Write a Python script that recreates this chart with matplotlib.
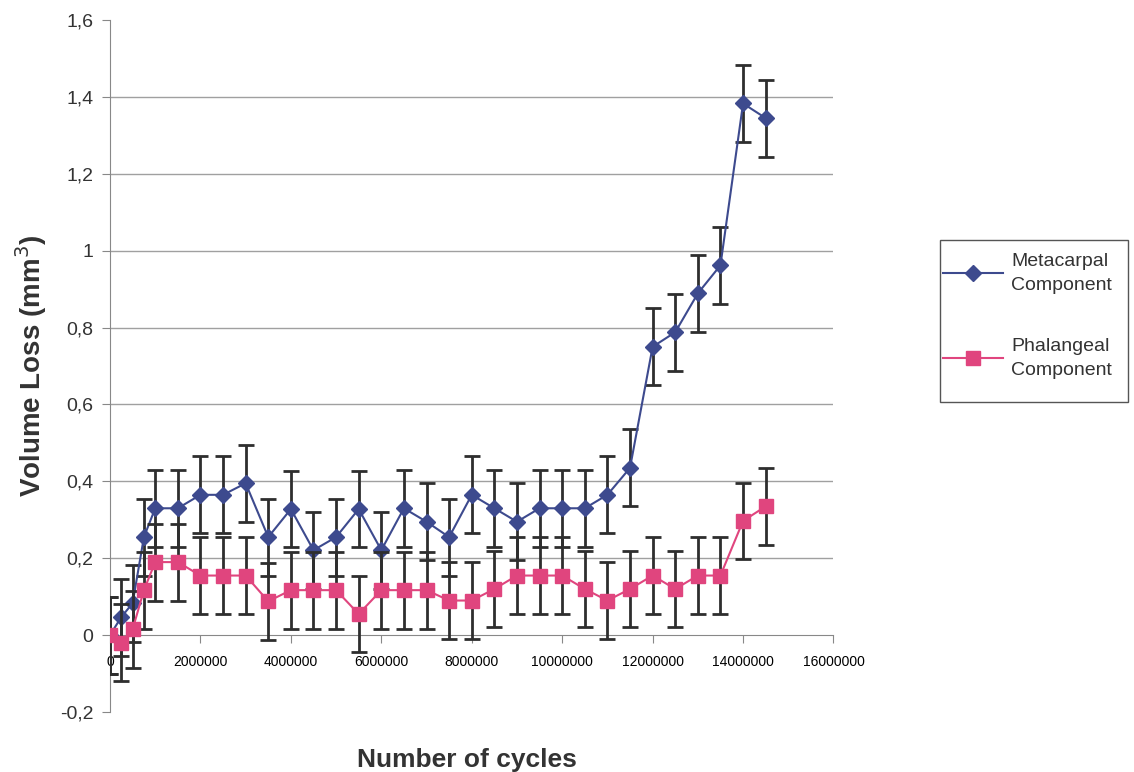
import numpy as np
import matplotlib.pyplot as plt
from matplotlib.lines import Line2D
from matplotlib.patches import Rectangle

cycles = [0, 250000, 500000, 750000, 1000000, 1500000, 2000000, 2500000, 3000000,
          3500000, 4000000, 4500000, 5000000, 5500000, 6000000, 6500000, 7000000,
          7500000, 8000000, 8500000, 9000000, 9500000, 10000000, 10500000, 11000000,
          11500000, 12000000, 12500000, 13000000, 13500000, 14000000, 14500000]
metacarpal = [0, 0.047, 0.083, 0.255, 0.33, 0.33, 0.365, 0.365, 0.395,
              0.255, 0.328, 0.221, 0.255, 0.328, 0.221, 0.33, 0.295,
              0.255, 0.365, 0.33, 0.295, 0.33, 0.33, 0.33, 0.365,
              0.435, 0.75, 0.788, 0.889, 0.962, 1.383, 1.345]
phalangeal = [0, -0.02, 0.015, 0.117, 0.19, 0.19, 0.155, 0.155, 0.155,
              0.088, 0.117, 0.117, 0.117, 0.055, 0.117, 0.117, 0.117,
              0.09, 0.09, 0.12, 0.155, 0.155, 0.155, 0.12, 0.09,
              0.12, 0.155, 0.12, 0.155, 0.155, 0.297, 0.335]
meta_err = [0.1] * len(cycles)
phal_err = [0.1] * len(cycles)

yticks = [-0.2, 0, 0.2, 0.4, 0.6, 0.8, 1.0, 1.2, 1.4, 1.6]
ytick_labels = ["-0,2", "0", "0,2", "0,4", "0,6", "0,8", "1", "1,2", "1,4", "1,6"]
xticks = [0, 2000000, 4000000, 6000000, 8000000, 10000000, 12000000, 14000000, 16000000]
series_names = ["Metacarpal\nComponent", "Phalangeal\nComponent"]

plt.rcParams['font.family'] = ['Liberation Sans', 'DejaVu Sans']

W, H = 1134, 772
fig = plt.figure(figsize=(W / 100, H / 100), dpi=100)
ax = fig.add_axes([0.097, 0.0777, 0.638, 0.8963])

blue = "#3d4a8e"
pink = "#e0457e"
errc = "#2e2e2e"
gridc = "#a0a0a0"

ax.errorbar(cycles, metacarpal, yerr=meta_err, color=blue, marker="D", ms=8,
            mec=blue, lw=1.5, ecolor=errc, elinewidth=2, capsize=5.5, capthick=2,
            zorder=3)
ax.errorbar(cycles, phalangeal, yerr=phal_err, color=pink, marker="s", ms=10,
            mec=pink, lw=1.5, ecolor=errc, elinewidth=2, capsize=5.5, capthick=2,
            zorder=4)

ax.set_xlim(0, 16000000)
ax.set_ylim(-0.2, 1.6)
ax.set_yticks(yticks)
ax.set_yticklabels(ytick_labels, fontsize=14, color="#333333")
ax.set_xticks(xticks)
ax.set_xticklabels([str(v) for v in xticks], fontsize=12, color="#333333")

# horizontal gridlines, only the inner ones
for yv in yticks[1:-1]:
    if yv != 0:
        ax.axhline(yv, color=gridc, lw=1, zorder=0)

ax.spines['top'].set_visible(False)
ax.spines['right'].set_visible(False)
ax.spines['bottom'].set_position(('data', 0))
ax.spines['bottom'].set_color("#888888")
ax.spines['left'].set_color("#888888")
ax.tick_params(axis='x', direction='out', length=6, color="#888888", pad=8)
ax.tick_params(axis='y', direction='out', length=6, color="#888888", pad=6)

ax.set_ylabel("Volume Loss (mm$^3$)", fontsize=20, fontweight='bold', color="#333333", labelpad=8)
fig.text(0.412, 0.007, "Number of cycles", fontsize=19, fontweight='bold', color="#333333",
         ha='center', va='baseline')

# legend: frame drawn separately so the inner padding can differ per side
fig.patches.append(Rectangle((940 / W, 1 - 402 / H), 188 / W, 162 / H,
                             transform=fig.transFigure, fill=False,
                             edgecolor="#555555", lw=1))
handles = [Line2D([], [], color=blue, marker="D", ms=8, lw=1.5),
           Line2D([], [], color=pink, marker="s", ms=10, lw=1.5)]
leg = fig.legend(handles, series_names, loc='center left',
                 bbox_to_anchor=(943 / W, 1 - 316 / H), bbox_transform=fig.transFigure,
                 fontsize=14, frameon=False, handlelength=3.1, labelspacing=2.3,
                 borderpad=0, handletextpad=0.4, borderaxespad=0)
for t in leg.get_texts():
    t.set_color("#333333")
    t.set_linespacing(1.5)
    t.set_multialignment('left')

fig.savefig("out.png", dpi=100)
